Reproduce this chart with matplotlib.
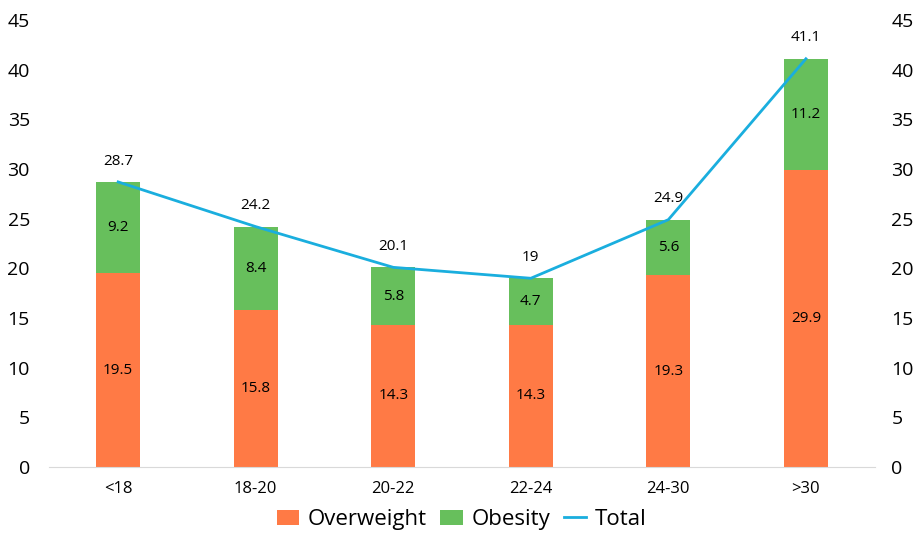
import matplotlib
matplotlib.use("Agg")
import matplotlib.pyplot as plt
import numpy as np

plt.rcParams["font.family"] = ["Open Sans", "DejaVu Sans"]

categories = ["<18", "18-20", "20-22", "22-24", "24-30", ">30"]
overweight = [19.5, 15.8, 14.3, 14.3, 19.3, 29.9]
obesity = [9.2, 8.4, 5.8, 4.7, 5.6, 11.2]
total = [28.7, 24.2, 20.1, 19, 24.9, 41.1]

c_over = "#FF7A45"
c_obes = "#67BF5C"
c_total = "#1AAEDE"

fig = plt.figure(figsize=(9.14, 5.34), dpi=100)
ax = fig.add_axes([0.054, 0.1255, 0.903, 0.837])
x = np.arange(len(categories))
w = 0.32

ax.bar(x, overweight, w, color=c_over, label="Overweight")
ax.bar(x, obesity, w, bottom=overweight, color=c_obes, label="Obesity")
ax.plot(x, total, color=c_total, lw=2, label="Total")

for i in range(len(x)):
    ax.text(x[i], overweight[i] / 2, f"{overweight[i]:g}", ha="center", va="center", fontsize=11)
    ax.text(x[i], overweight[i] + obesity[i] / 2, f"{obesity[i]:g}", ha="center", va="center", fontsize=11)
    ax.annotate(f"{total[i]:g}", (x[i], total[i]), xytext=(0, 15), textcoords="offset points",
                ha="center", va="center", fontsize=11)

ax.set_xlim(-0.5, len(x) - 0.5)
ax.set_ylim(0, 45)
ax.set_yticks(range(0, 46, 5))
ax.set_xticks(x)
ax.set_xticklabels(categories, fontsize=12)
ax.tick_params(axis="y", labelsize=14, length=0, pad=14)
ax.tick_params(axis="x", length=0, pad=10)
for s in ["top", "right", "left"]:
    ax.spines[s].set_visible(False)
ax.spines["bottom"].set_color("#d9d9d9")

ax2 = ax.twinx()
ax2.set_ylim(0, 45)
ax2.set_yticks(range(0, 46, 5))
ax2.tick_params(axis="y", labelsize=14, length=0, pad=12)
for s in ax2.spines.values():
    s.set_visible(False)

h, l = ax.get_legend_handles_labels()
order = [1, 2, 0]
fig.legend([h[i] for i in order], [l[i] for i in order], loc="center", bbox_to_anchor=(0.505, 0.027),
           ncol=3, frameon=False, fontsize=16, handlelength=1.0, handletextpad=0.4, columnspacing=0.6)

fig.savefig("out.png", dpi=100)
